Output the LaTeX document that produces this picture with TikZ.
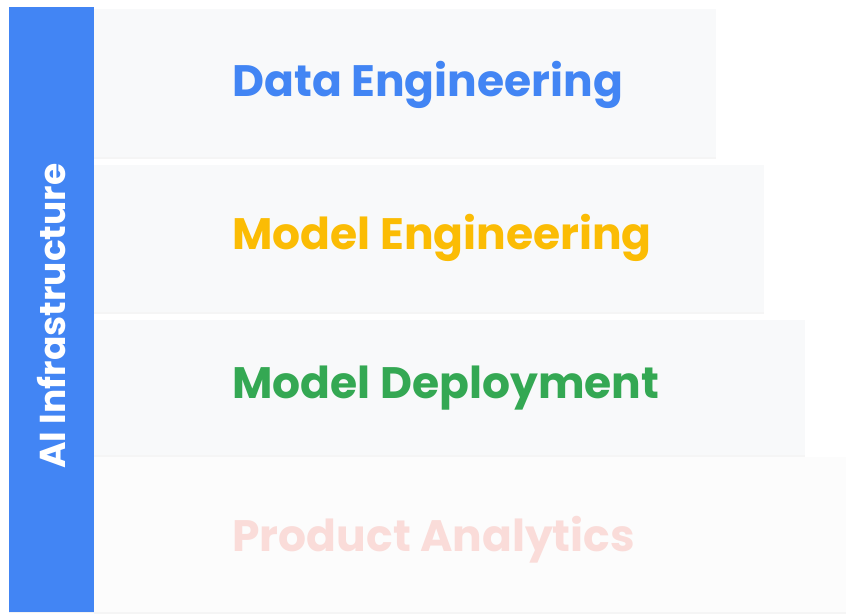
\documentclass[tikz,border=0pt]{standalone}
\usepackage{fontspec}
\setmainfont{Poppins}
\usetikzlibrary{shadows}

\definecolor{gblue}{HTML}{4285F4}
\definecolor{gyellow}{HTML}{FBBC04}
\definecolor{ggreen}{HTML}{34A853}
\definecolor{gpink}{HTML}{FADCD9}
\definecolor{layerfill}{HTML}{F8F9FA}
\definecolor{fadedfill}{HTML}{FCFCFC}

\begin{document}
\begin{tikzpicture}[x=1pt, y=1pt,
  layer/.style={fill=layerfill, draw=none, anchor=south west, inner sep=0pt,
    drop shadow={shadow xshift=0pt, shadow yshift=-2pt, opacity=0.08}},
  label/.style={anchor=west, font=\fontsize{44}{50}\selectfont\bfseries}]
  \useasboundingbox (0, 0) rectangle (846, 614);

  % layers, bottom one first
  \node[layer, fill=fadedfill, drop shadow={opacity=0}, minimum width=752pt, minimum height=155pt] (analytics) at (94, 2) {};
  \node[layer, minimum width=711pt, minimum height=135pt] (deployment) at (94, 159) {};
  \node[layer, minimum width=670pt, minimum height=147pt] (modeleng) at (94, 302) {};
  \node[layer, minimum width=622pt, minimum height=148pt] (dataeng) at (94, 457) {};

  % left bar
  \node[fill=gblue, anchor=south west, inner sep=0pt, minimum width=85pt, minimum height=605pt,
    drop shadow={shadow xshift=0pt, shadow yshift=-1pt, opacity=0.1}] (infra) at (9, 2) {};
  \node[rotate=90, text=white, font=\fontsize{36}{40}\selectfont\bfseries] (infratext) at ([yshift=-7pt]infra.center) {AI Infrastructure};

  \node[label, text=gblue] (dataengtext) at (229, 529) {Data Engineering};
  \node[label, text=gyellow] (modelengtext) at (229, 376) {Model Engineering};
  \node[label, text=ggreen] (deploymenttext) at (229, 226) {Model Deployment};
  \node[label, text=gpink] (analyticstext) at (229, 74) {Product Analytics};
\end{tikzpicture}
\end{document}
